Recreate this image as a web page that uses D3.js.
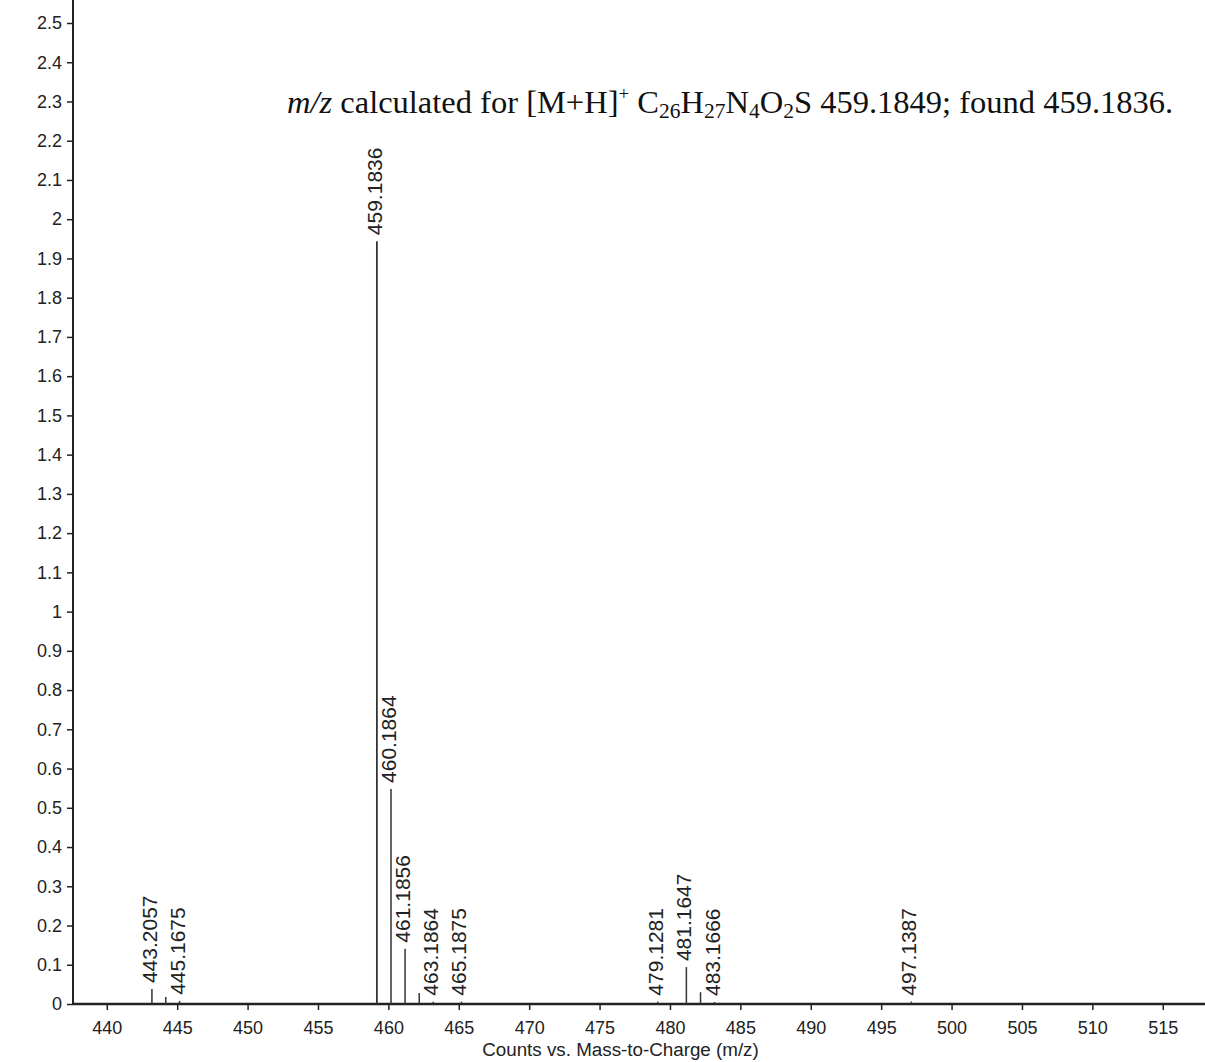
<!DOCTYPE html>
<html>
<head>
<meta charset="utf-8">
<script src="https://cdn.jsdelivr.net/npm/d3@7"></script>
<style>
  html, body { margin: 0; padding: 0; background: #fff; }
  svg { display: block; }
</style>
</head>
<body>
<svg id="chart" width="1205" height="1062"></svg>
<script>
// ---- Data ----
const peakMz        = [443.2057, 444.19, 445.1675, 459.1836, 460.1864, 461.1856, 462.19, 463.1864, 465.1875, 479.1281, 481.1647, 482.17, 483.1666, 497.1387];
const peakIntensity = [0.038,    0.018,  0.008,    1.944,    0.548,    0.141,    0.028,  0.006,    0.006,    0.006,    0.094,    0.03,   0.005,    0.006];
const peakLabeled   = [true,     false,  true,     true,     true,     true,     false,  true,     true,     true,     true,     false,  true,     true];
const xTicks = [440, 445, 450, 455, 460, 465, 470, 475, 480, 485, 490, 495, 500, 505, 510, 515];
const yTicks = [0, 0.1, 0.2, 0.3, 0.4, 0.5, 0.6, 0.7, 0.8, 0.9, 1, 1.1, 1.2, 1.3, 1.4, 1.5, 1.6, 1.7, 1.8, 1.9, 2, 2.1, 2.2, 2.3, 2.4, 2.5];
const xTitle = "Counts vs. Mass-to-Charge (m/z)";

const svg = d3.select("#chart");
const W = 1205, H = 1062;
const x0 = 73, y0 = 1004;

const x = d3.scaleLinear().domain([437.6, 518]).range([x0, W]);
const y = d3.scaleLinear().domain([0, 2.5]).range([y0, 23]);

const ink = "#222";
const fontSans = "Liberation Sans, Arial, Helvetica, sans-serif";

// Y axis
const yAxis = d3.axisLeft(y).tickValues(yTicks).tickSize(6).tickSizeOuter(0)
  .tickFormat(v => String(+v.toFixed(1)));
const gy = svg.append("g").attr("transform", `translate(${x0},0)`).call(yAxis);
gy.select(".domain").remove();
gy.selectAll(".tick line").attr("stroke", ink).attr("stroke-width", 1.5);
gy.selectAll(".tick text").attr("fill", ink).attr("font-family", fontSans).attr("font-size", 18).attr("x", -11);
svg.append("line").attr("x1", x0).attr("x2", x0).attr("y1", 0).attr("y2", y0 + 1)
  .attr("stroke", ink).attr("stroke-width", 2);

// X axis
const xAxis = d3.axisBottom(x).tickValues(xTicks).tickSize(6).tickSizeOuter(0)
  .tickFormat(d3.format("d"));
const gx = svg.append("g").attr("transform", `translate(0,${y0})`).call(xAxis);
gx.select(".domain").remove();
gx.selectAll(".tick line").attr("stroke", ink).attr("stroke-width", 1.5);
gx.selectAll(".tick text").attr("fill", ink).attr("font-family", fontSans).attr("font-size", 18)
  .attr("y", 30).attr("dy", 0);
svg.append("line").attr("x1", x0).attr("x2", W).attr("y1", y0).attr("y2", y0)
  .attr("stroke", ink).attr("stroke-width", 2.5);

svg.append("text").attr("x", 620.5).attr("y", 1056).attr("text-anchor", "middle")
  .attr("font-family", fontSans).attr("font-size", 18.8).attr("fill", ink).text(xTitle);

// Peaks
const peaks = peakMz.map((m, i) => ({ mz: m, v: peakIntensity[i], lab: peakLabeled[i] }));
svg.append("g").selectAll("line").data(peaks).join("line")
  .attr("x1", d => x(d.mz)).attr("x2", d => x(d.mz))
  .attr("y1", y0).attr("y2", d => y(d.v))
  .attr("stroke", "#333").attr("stroke-width", d => d.v > 1 ? 1.8 : 1.5);

svg.append("g").selectAll("text").data(peaks.filter(d => d.lab)).join("text")
  .attr("transform", d => `translate(${x(d.mz) + 5},${y(d.v) - 6}) rotate(-90)`)
  .attr("font-family", fontSans).attr("font-size", 21).attr("fill", ink)
  .text(d => d.mz.toFixed(4));

// Annotation
const ann = svg.append("text").attr("x", 287).attr("y", 113)
  .attr("font-family", "Liberation Serif, 'Times New Roman', serif").attr("font-size", 32.5).attr("fill", "#111");
ann.append("tspan").attr("font-style", "italic").text("m/z");
ann.append("tspan").text(" calculated for [M+H]");
ann.append("tspan").attr("font-size", 19).attr("dy", -13).text("+");
ann.append("tspan").attr("dy", 13).text(" C");
ann.append("tspan").attr("font-size", 21.5).attr("dy", 5).text("26");
ann.append("tspan").attr("dy", -5).text("H");
ann.append("tspan").attr("font-size", 21.5).attr("dy", 5).text("27");
ann.append("tspan").attr("dy", -5).text("N");
ann.append("tspan").attr("font-size", 21.5).attr("dy", 5).text("4");
ann.append("tspan").attr("dy", -5).text("O");
ann.append("tspan").attr("font-size", 21.5).attr("dy", 5).text("2");
ann.append("tspan").attr("dy", -5).text("S 459.1849; found 459.1836.");
</script>
</body>
</html>
